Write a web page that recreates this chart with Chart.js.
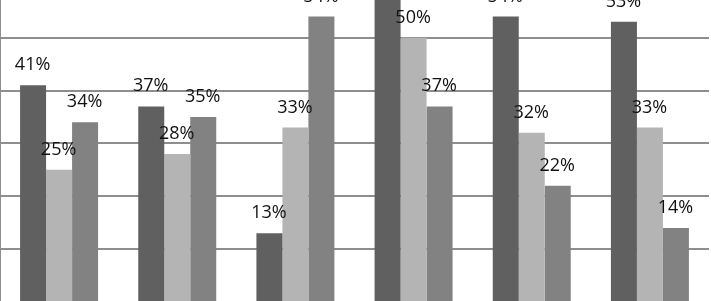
<!DOCTYPE html>
<html>
<head>
<meta charset="utf-8">
<script src="https://cdn.jsdelivr.net/npm/chart.js@4.4.1/dist/chart.umd.min.js"></script>
<style>
  html, body { margin: 0; padding: 0; width: 711px; height: 301px; overflow: hidden; background: #ffffff; }
  #wrap { position: absolute; left: 0; top: -68px; width: 711px; height: 370px; }
</style>
</head>
<body>
<div id="wrap"><canvas id="c" width="711" height="370"></canvas></div>
<script>
const categories = ["A", "B", "C", "D", "E", "F"];
const series1 = [41, 37, 13, 58, 54, 53];
const series2 = [25, 28, 33, 50, 32, 33];
const series3 = [34, 35, 54, 37, 22, 14];
const seriesNames = ["Series 1", "Series 2", "Series 3"];
const seriesColors = ["#606060", "#b4b4b4", "#828282"];
const yTicks = [0, 10, 20, 30, 40, 50, 60, 70];

const labelPlugin = {
  id: 'barLabels',
  afterDatasetsDraw(chart) {
    const ctx = chart.ctx;
    ctx.save();
    ctx.font = '18px "Open Sans", sans-serif';
    ctx.fillStyle = '#111111';
    ctx.textAlign = 'center';
    ctx.textBaseline = 'alphabetic';
    chart.data.datasets.forEach((ds, di) => {
      const meta = chart.getDatasetMeta(di);
      meta.data.forEach((el, i) => {
        ctx.fillText(ds.data[i] + '%', el.x - 0.5, el.y - 15);
      });
    });
    ctx.restore();
  }
};

new Chart(document.getElementById('c'), {
  type: 'bar',
  data: {
    labels: categories,
    datasets: [series1, series2, series3].map((d, i) => ({
      label: seriesNames[i],
      data: d,
      backgroundColor: seriesColors[i],
      borderWidth: 0,
      barPercentage: 1.0,
      categoryPercentage: 0.66
    }))
  },
  options: {
    responsive: false,
    animation: false,
    layout: { padding: { left: 0, right: 2, top: 0, bottom: 0 } },
    plugins: { legend: { display: false }, tooltip: { enabled: false } },
    scales: {
      x: {
        display: true,
        ticks: { display: false },
        grid: { display: false, drawTicks: false },
        border: { display: false }
      },
      y: {
        min: yTicks[0],
        max: yTicks[yTicks.length - 1],
        afterBuildTicks(scale) { scale.ticks = yTicks.map(v => ({ value: v })); },
        ticks: { display: false },
        grid: { color: '#8e8e8e', lineWidth: 2, drawTicks: false },
        border: { display: true, color: '#8e8e8e', width: 2 }
      }
    }
  },
  plugins: [labelPlugin]
});
</script>
</body>
</html>
